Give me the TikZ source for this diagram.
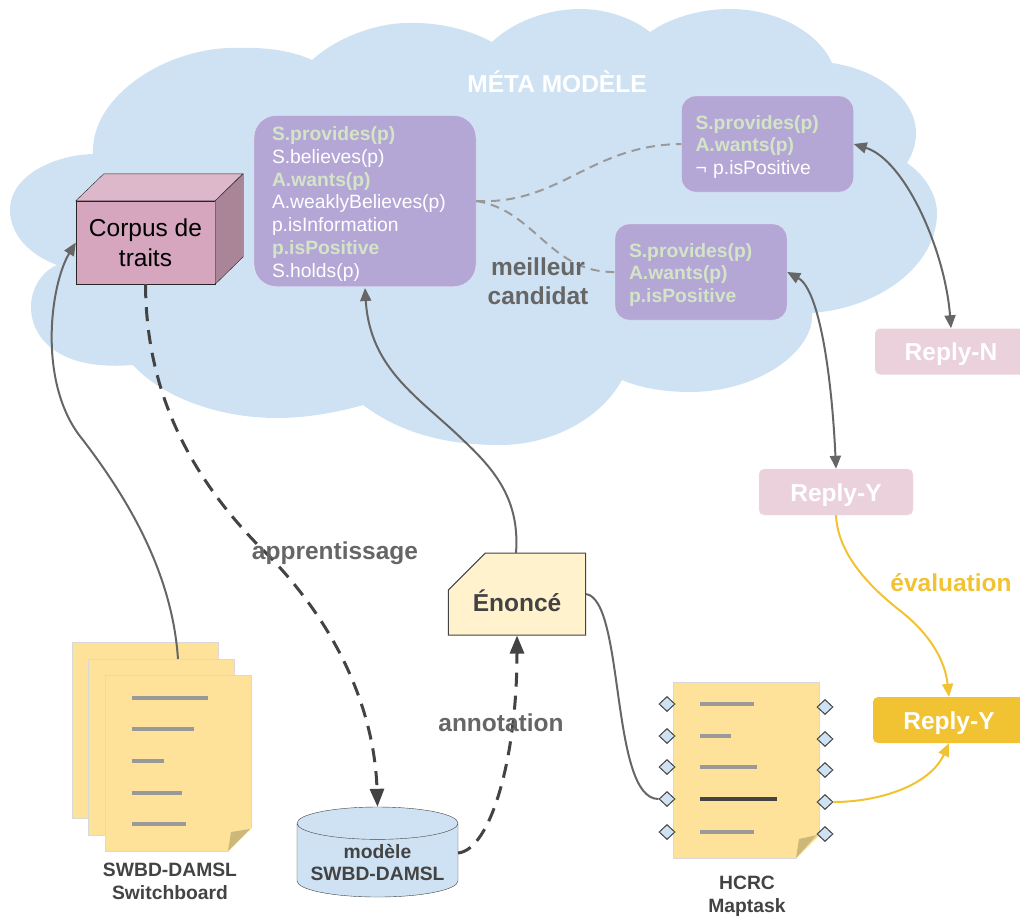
\documentclass[tikz,border=0pt]{standalone}
\usepackage{fontspec}
\setmainfont{Liberation Sans}
\usepackage{tikz}
\usetikzlibrary{shapes.geometric, shapes.misc, arrows.meta}
\definecolor{cloudblue}{HTML}{CFE2F3}
\definecolor{metapurple}{HTML}{B4A7D6}
\definecolor{metagreen}{HTML}{D3E5C6}
\definecolor{pagebeige}{HTML}{FFE299}
\definecolor{foldbrown}{HTML}{CDB87C}
\definecolor{notebeige}{HTML}{FFF2CC}
\definecolor{replypink}{HTML}{EAD1DC}
\definecolor{replygold}{HTML}{F1C232}
\definecolor{corpusfront}{HTML}{D5A6BD}
\definecolor{corpustop}{HTML}{DDB8CA}
\definecolor{corpusside}{HTML}{AA8597}
\definecolor{darkgrey}{HTML}{434343}
\definecolor{midgrey}{HTML}{666666}
\newcommand{\biglabel}{\fontsize{24.5pt}{29pt}\selectfont\bfseries}
\newcommand{\smalllabel}{\fontsize{19.3pt}{22.7pt}\selectfont}
\newcommand{\trait}[1]{\textcolor{metagreen}{\textbf{#1}}}
\newcommand{\firstline}{\rule{0pt}{20pt}}
\tikzstyle{meta1} = [rectangle, rounded corners=22pt, minimum height=171pt, inner xsep=18pt, text width=186pt, align=left, draw=white!70!metapurple, fill=metapurple, text=white, font=\smalllabel]
\tikzstyle{meta2} = [rectangle, rounded corners=14pt, minimum height=96pt, inner xsep=14pt, text width=144pt, align=left, draw=white!70!metapurple, fill=metapurple, text=white, font=\smalllabel]
\tikzstyle{reply} = [rectangle, rounded corners=5pt, minimum height=46pt, text height=23.5pt, text=white, font=\biglabel]
\tikzstyle{sheet} = [rectangle, minimum width=146pt, minimum height=176pt, draw=black!15, fill=pagebeige]
\tikzstyle{textline} = [rectangle, anchor=west, inner sep=0pt, minimum height=3.5pt, fill=black!40]
\tikzstyle{port} = [diamond, inner sep=0pt, minimum width=16pt, minimum height=15pt, draw=darkgrey, fill=cloudblue, line width=1pt]
\tikzstyle{caption} = [text=darkgrey, align=center, font=\smalllabel\bfseries]
\tikzstyle{tag} = [text=midgrey, align=center, font=\biglabel]
\tikzstyle{arrow} = [line width=2pt, midgrey, ->, >={Triangle[length=13pt,width=11pt]}]
\tikzstyle{biarrow} = [arrow, <->]
\tikzstyle{goldarrow} = [line width=2pt, replygold, ->, >={Triangle[length=13pt,width=11pt]}]
\tikzstyle{thickdash} = [line width=3pt, darkgrey, dash pattern=on 14pt off 9pt, ->, >={Triangle[length=18pt,width=14pt]}]
\tikzstyle{lightdash} = [line width=2pt, black!40, dash pattern=on 9pt off 6pt]

\begin{document}
\begin{tikzpicture}[x=1pt, y=-1pt]
\useasboundingbox (0,0) rectangle (1020,918);

\fill [cloudblue] (93,154) .. controls (90,95) and (170,45) .. (240,48) .. controls (270,47) and (295,52) .. (312,60)
  .. controls (340,35) and (380,23) .. (407,23) .. controls (440,22) and (470,30) .. (492,42)
  .. controls (515,20) and (550,9) .. (580,9) .. controls (610,9) and (635,20) .. (650,32)
  .. controls (675,15) and (705,9) .. (730,9) .. controls (780,9) and (820,35) .. (832,63)
  .. controls (880,70) and (916,100) .. (916,133) .. controls (916,145) and (912,155) .. (907,163)
  .. controls (925,175) and (937,195) .. (937,213) .. controls (937,265) and (880,308) .. (812,313)
  .. controls (815,350) and (760,392) .. (690,392) .. controls (665,392) and (640,388) .. (622,380)
  .. controls (600,420) and (550,445) .. (500,445) .. controls (430,445) and (390,425) .. (363,405)
  .. controls (335,413) and (305,418) .. (277,418) .. controls (215,418) and (160,395) .. (133,365)
  .. controls (120,366) and (110,366) .. (100,365) .. controls (60,362) and (31,340) .. (31,307)
  .. controls (31,285) and (45,270) .. (57,265) .. controls (30,255) and (10,235) .. (10,210)
  .. controls (10,175) and (55,155) .. (93,154) -- cycle;

\node (title) [text=white, font=\biglabel] at (557,81.5) {MÉTA MODÈLE};

\node (corpus) [rectangle, minimum width=139pt, minimum height=83pt, draw=black!85, fill=corpusfront, align=center, font=\fontsize{24.5pt}{30pt}\selectfont] at (145.5,242.5) {Corpus de\\traits};
\filldraw [draw=black!85, fill=corpustop] (corpus.north west) -- ++(28,-27) -- ++(139,0) -- (corpus.north east) -- cycle;
\filldraw [draw=black!85, fill=corpusside] (corpus.north east) -- ++(28,-27) -- ++(0,83) -- (corpus.south east) -- cycle;

\node (meta1) [meta1] at (365,201) {\firstline\trait{S.provides(p)}\\S.believes(p)\\\trait{A.wants(p)}\\A.weaklyBelieves(p)\\p.isInformation\\\trait{p.isPositive}\\S.holds(p)};
\node (meta2) [meta2] at (767.5,144) {\firstline\trait{S.provides(p)}\\\trait{A.wants(p)}\\¬ p.isPositive};
\node (meta3) [meta2] at (701,272) {\firstline\trait{S.provides(p)}\\\trait{A.wants(p)}\\\trait{p.isPositive}};

\node (replyn) [reply, minimum width=152pt, fill=replypink] at (951,351.5) {Reply-N};
\node (replypink) [reply, minimum width=154pt, fill=replypink, draw=white!50!replypink] at (836,492) {Reply-Y};
\node (replygold) [reply, minimum width=152pt, fill=replygold] at (949,720) {Reply-Y};

\node (enonce) [chamfered rectangle, chamfered rectangle corners=north west, chamfered rectangle xsep=26pt, chamfered rectangle ysep=16pt, minimum width=136pt, minimum height=82pt, text height=35pt, line width=1pt, draw=darkgrey, fill=notebeige, text=darkgrey, font=\biglabel] at (517,594) {Énoncé};

\node (modele) [cylinder, shape border rotate=90, aspect=0.23, minimum width=161pt, minimum height=90pt, draw=darkgrey, fill=cloudblue, text=darkgrey, align=center, font=\smalllabel\bfseries] at (377.5,862.5) {modèle\\SWBD-DAMSL};

\node (page1) [sheet] at (145,730) {};
\node (page2) [sheet, below of=page1, node distance=17pt, xshift=16.5pt] {};
\node (page3) [sheet, below of=page2, node distance=16.5pt, xshift=16.5pt] {};
\fill [white] (228,852) -- (252,852) -- (252,828) -- cycle;
\fill [foldbrown] (228,851) -- (231,832) -- (250,829) -- cycle;
\node (swbdline1) [textline, minimum width=76pt] at (132,698) {};
\node (swbdline2) [textline, minimum width=62pt] at (132,729) {};
\node (swbdline3) [textline, minimum width=32pt] at (132,761) {};
\node (swbdline4) [textline, minimum width=50pt] at (132,793) {};
\node (swbdline5) [textline, minimum width=54pt] at (132,824) {};
\node (swbdlabel) [caption] at (170,881) {SWBD-DAMSL\\Switchboard};

\node (page4) [sheet] at (746,770) {};
\fill [white] (796,859) -- (820,859) -- (820,835) -- cycle;
\fill [foldbrown] (796,858) -- (799,839) -- (817,835) -- cycle;
\node (mapline1) [textline, minimum width=54pt] at (700,704) {};
\node (mapline2) [textline, minimum width=31pt] at (700,736) {};
\node (mapline3) [textline, minimum width=57pt] at (700,767) {};
\node (mapline4) [textline, minimum width=77pt, minimum height=4pt, fill=darkgrey] at (700,799) {};
\node (mapline5) [textline, minimum width=54pt] at (700,832) {};
\node (maplabel) [caption] at (747,896) {HCRC\\Maptask};

\node (portl1) [port] at (667,704) {};
\node (portl2) [port, below of=portl1, node distance=32pt] {};
\node (portl3) [port, below of=portl2, node distance=31pt] {};
\node (portl4) [port, below of=portl3, node distance=32pt] {};
\node (portl5) [port, below of=portl4, node distance=33pt] {};
\node (portr1) [port] at (825,707) {};
\node (portr2) [port, below of=portr1, node distance=32pt] {};
\node (portr3) [port, below of=portr2, node distance=31pt] {};
\node (portr4) [port, below of=portr3, node distance=32pt] {};
\node (portr5) [port, below of=portr4, node distance=32pt] {};

\coordinate (swbdtop) at (178,659);
\coordinate (meta1base) at (365,288);
\coordinate (enoncetop) at (516,553);
\coordinate (modeleside) at (458,853);

\draw [arrow] (swbdtop) .. controls (172,570) and (125,495) .. (83,440) .. controls (37,385) and (50,285) .. (corpus.west);
\draw [thickdash] (corpus.south) .. controls (146,380) and (180,470) .. (270,557) .. controls (345,635) and (375,720) .. (modele.north);
\draw [thickdash] (modeleside) .. controls (490,850) and (517,760) .. (enonce.south);
\draw [arrow] (enoncetop) .. controls (520,500) and (495,470) .. (463,440) .. controls (420,398) and (370,370) .. (meta1base);
\draw [line width=2pt, midgrey] (enonce.east) .. controls (625,600) and (610,799) .. (portl4.west);
\draw [lightdash] (meta1.east) .. controls (560,205) and (590,145) .. (meta2.west);
\draw [lightdash] (meta1.east) .. controls (535,210) and (550,273) .. (meta3.west);
\draw [biarrow] (meta2.east) .. controls (905,160) and (945,250) .. (replyn.north);
\draw [biarrow] (meta3.east) .. controls (820,290) and (832,380) .. (replypink.north);
\draw [goldarrow] (replypink.south) .. controls (838,560) and (880,595) .. (903,613) .. controls (930,635) and (945,660) .. (replygold.north);
\draw [goldarrow] (portr4.east) .. controls (880,802) and (930,785) .. (replygold.south);

\node (best) [tag] at (538,281) {meilleur\\candidat};
\node (learning) [tag] at (335,553) {apprentissage};
\node (annotation) [tag] at (501,723) {annotation};
\node (evaluation) [tag, text=replygold] at (951,583) {évaluation};

\end{tikzpicture}
\end{document}
